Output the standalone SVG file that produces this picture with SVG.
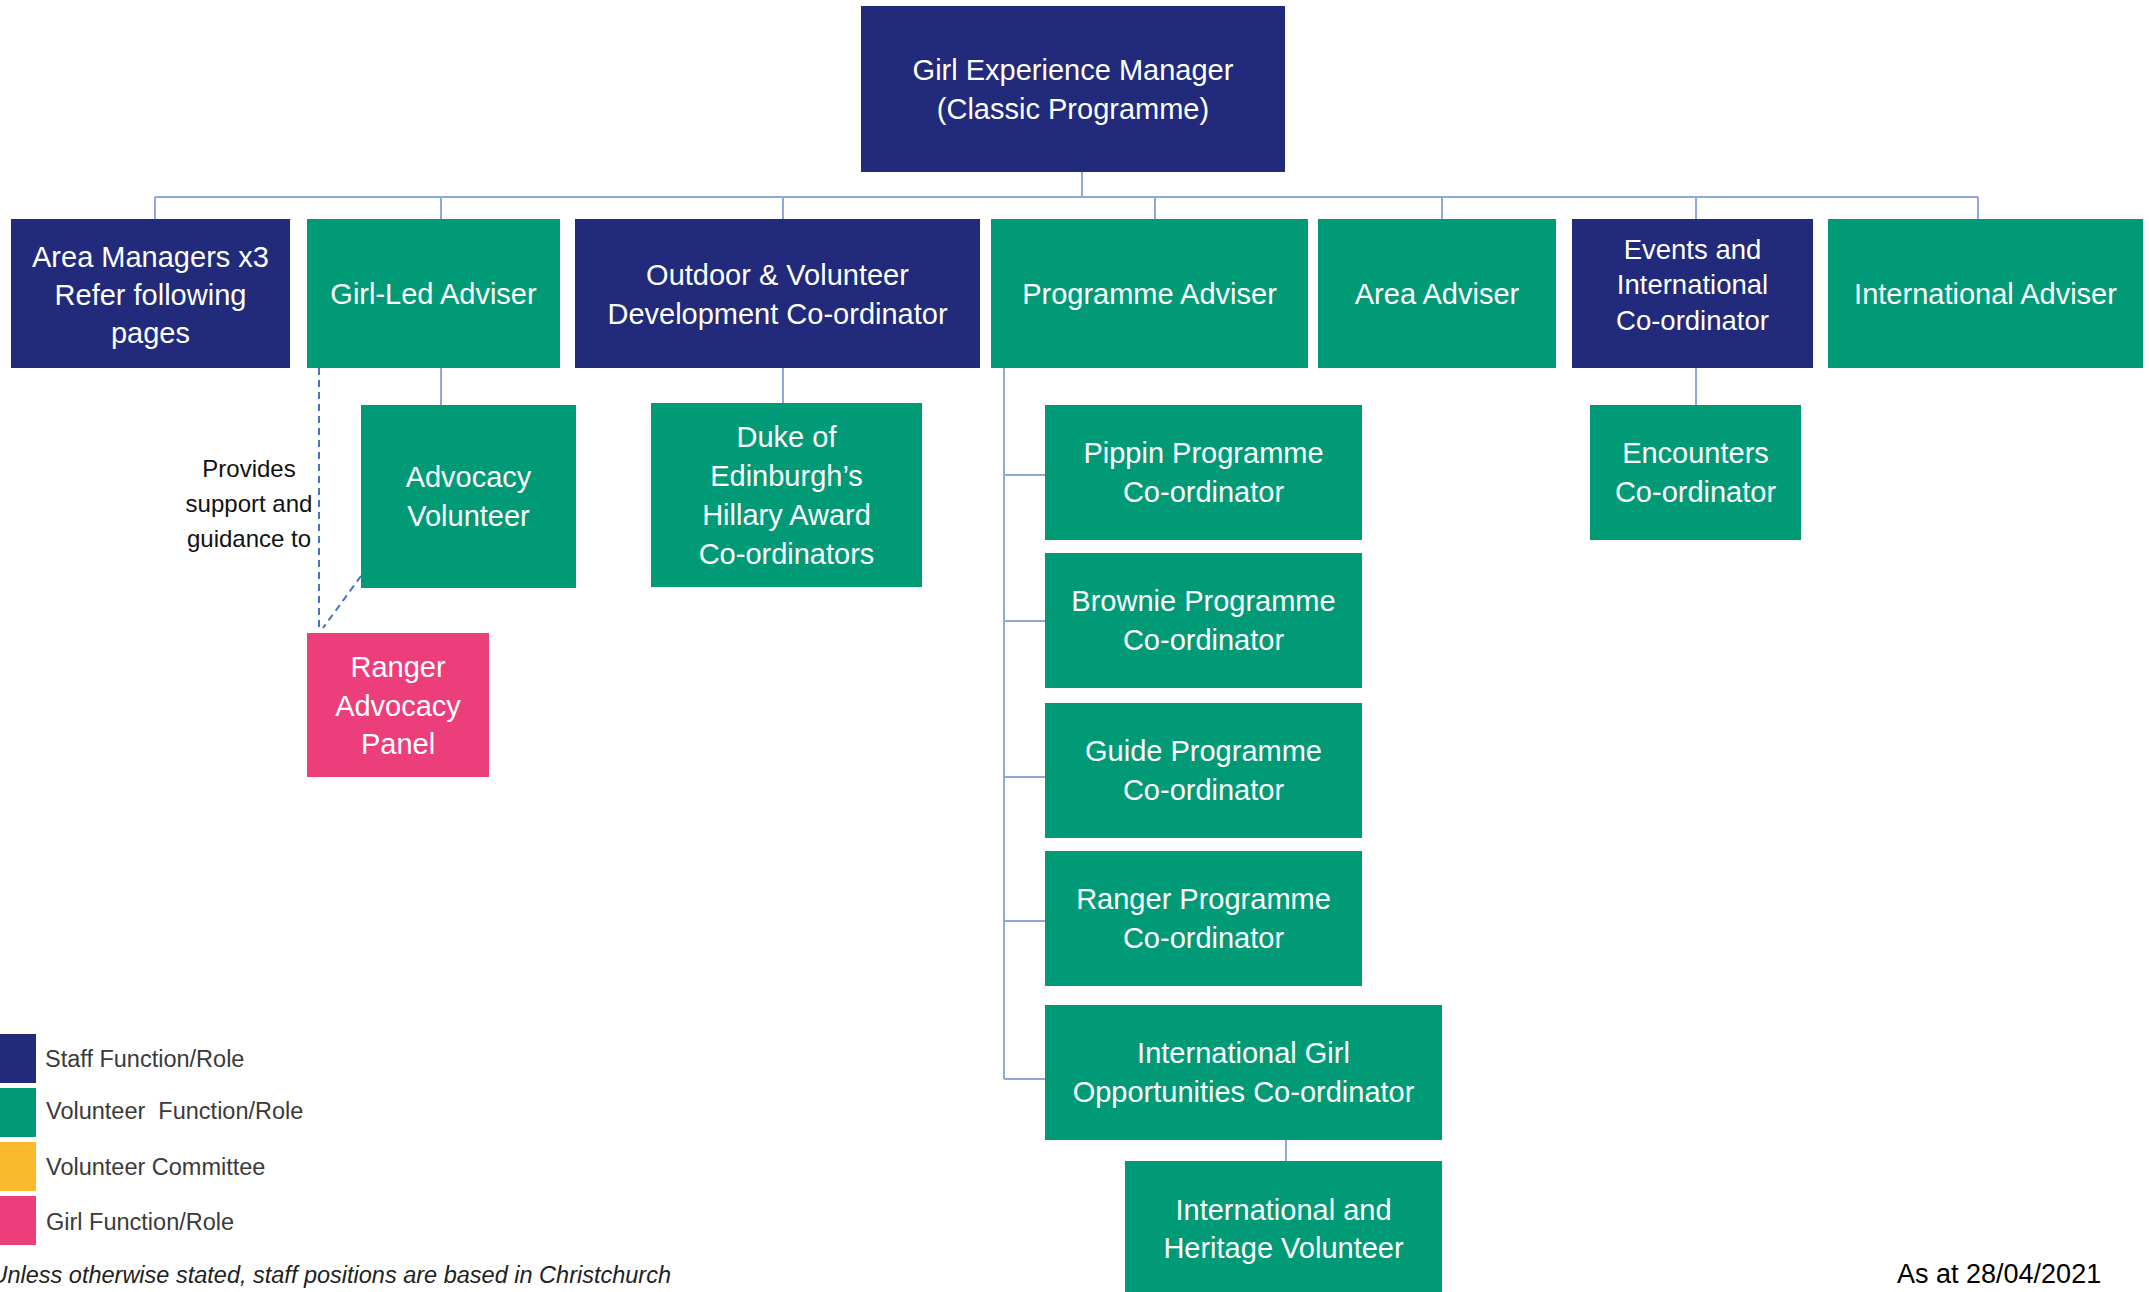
<svg xmlns="http://www.w3.org/2000/svg" width="2149" height="1292" viewBox="0 0 2149 1292">
<style>
.staff{fill:#212A7B}
.vol{fill:#009B76}
.girl{fill:#EC3E7B}
.t{fill:#ffffff;font-family:"Liberation Sans",Arial,sans-serif;font-size:29px;text-anchor:middle}
.ts{font-size:27.5px}
.c{fill:none;stroke:#8EA8DB;stroke-width:2}
.d{fill:none;stroke:#4472C4;stroke-width:2;stroke-dasharray:7 5}
.note{font-family:"Liberation Sans",Arial,sans-serif;font-size:24px;fill:#111;text-anchor:middle}
.leg{font-family:"Liberation Sans",Arial,sans-serif;font-size:23.5px;fill:#3a3a3a}
</style>
<rect width="2149" height="1292" fill="#ffffff"/>
<g id="connectors">
<path class="c" d="M1082 172V197M155 197H1978M155 197V219M441 197V219M783 197V219M1155 197V219M1442 197V219M1696 197V219M1978 197V219"/>
<path class="c" d="M441 368V405M783 368V403M1696 368V405"/>
<path class="c" d="M1004 368V1079M1004 475H1045M1004 621H1045M1004 777H1045M1004 921H1045M1004 1079H1045"/>
<path class="c" d="M1286 1140V1161"/>
<path class="d" d="M319 368V627"/>
<path class="d" d="M361 576L323 628"/>
</g>
<g id="n-gem"><rect class="staff" x="861" y="6" width="424" height="166"/><text class="t" x="1073" y="80">Girl Experience Manager</text><text class="t" x="1073" y="119">(Classic Programme)</text></g>
<g id="n-am"><rect class="staff" x="11" y="219" width="279" height="149"/><text class="t" x="150.5" y="267">Area Managers x3</text><text class="t" x="150.5" y="305">Refer following</text><text class="t" x="150.5" y="343">pages</text></g>
<g id="n-gla"><rect class="vol" x="307" y="219" width="253" height="149"/><text class="t" x="433.5" y="304">Girl-Led Adviser</text></g>
<g id="n-ovd"><rect class="staff" x="575" y="219" width="405" height="149"/><text class="t" x="777.5" y="285">Outdoor &amp; Volunteer</text><text class="t" x="777.5" y="324">Development Co-ordinator</text></g>
<g id="n-pa"><rect class="vol" x="991" y="219" width="317" height="149"/><text class="t" x="1149.5" y="304">Programme Adviser</text></g>
<g id="n-aa"><rect class="vol" x="1318" y="219" width="238" height="149"/><text class="t" x="1437" y="304">Area Adviser</text></g>
<g id="n-eic"><rect class="staff" x="1572" y="219" width="241" height="149"/><text class="t ts" x="1692.5" y="259">Events and</text><text class="t ts" x="1692.5" y="294">International</text><text class="t ts" x="1692.5" y="330">Co-ordinator</text></g>
<g id="n-ia"><rect class="vol" x="1828" y="219" width="315" height="149"/><text class="t" x="1985.5" y="304">International Adviser</text></g>
<g id="n-av"><rect class="vol" x="361" y="405" width="215" height="183"/><text class="t" x="468.5" y="487">Advocacy</text><text class="t" x="468.5" y="526">Volunteer</text></g>
<g id="n-doe"><rect class="vol" x="651" y="403" width="271" height="184"/><text class="t" x="786.5" y="447">Duke of</text><text class="t" x="786.5" y="486">Edinburgh’s</text><text class="t" x="786.5" y="525">Hillary Award</text><text class="t" x="786.5" y="564">Co-ordinators</text></g>
<g id="n-rap"><rect class="girl" x="307" y="633" width="182" height="144"/><text class="t" x="398" y="677">Ranger</text><text class="t" x="398" y="716">Advocacy</text><text class="t" x="398" y="754">Panel</text></g>
<g id="n-ppc"><rect class="vol" x="1045" y="405" width="317" height="135"/><text class="t" x="1203.5" y="463">Pippin Programme</text><text class="t" x="1203.5" y="502">Co-ordinator</text></g>
<g id="n-bpc"><rect class="vol" x="1045" y="553" width="317" height="135"/><text class="t" x="1203.5" y="611">Brownie Programme</text><text class="t" x="1203.5" y="650">Co-ordinator</text></g>
<g id="n-gpc"><rect class="vol" x="1045" y="703" width="317" height="135"/><text class="t" x="1203.5" y="761">Guide Programme</text><text class="t" x="1203.5" y="800">Co-ordinator</text></g>
<g id="n-rpc"><rect class="vol" x="1045" y="851" width="317" height="135"/><text class="t" x="1203.5" y="909">Ranger Programme</text><text class="t" x="1203.5" y="948">Co-ordinator</text></g>
<g id="n-igoc"><rect class="vol" x="1045" y="1005" width="397" height="135"/><text class="t" x="1243.5" y="1063">International Girl</text><text class="t" x="1243.5" y="1102">Opportunities Co-ordinator</text></g>
<g id="n-ihv"><rect class="vol" x="1125" y="1161" width="317" height="131"/><text class="t" x="1283.5" y="1220">International and</text><text class="t" x="1283.5" y="1258">Heritage Volunteer</text></g>
<g id="n-enc"><rect class="vol" x="1590" y="405" width="211" height="135"/><text class="t" x="1695.5" y="463">Encounters</text><text class="t" x="1695.5" y="502">Co-ordinator</text></g>
<g id="label-support"><text class="note" x="249" y="477">Provides</text><text class="note" x="249" y="512">support and</text><text class="note" x="249" y="547">guidance to</text></g>
<g id="legend">
<rect class="staff" x="0" y="1034" width="36" height="49"/>
<rect class="vol" x="0" y="1088" width="36" height="49"/>
<rect x="0" y="1142" width="36" height="49" fill="#FBB92F"/>
<rect class="girl" x="0" y="1196" width="36" height="49"/>
<text class="leg" x="45" y="1067">Staff Function/Role</text>
<text class="leg" x="46" y="1119" xml:space="preserve">Volunteer  Function/Role</text>
<text class="leg" x="46" y="1175">Volunteer Committee</text>
<text class="leg" x="46" y="1230">Girl Function/Role</text>
<text x="671" y="1283" font-family="Liberation Sans, Arial, sans-serif" font-size="23.5" font-style="italic" fill="#222" text-anchor="end">Unless otherwise stated, staff positions are based in Christchurch</text>
</g>
<text x="1897" y="1283" font-family="Liberation Sans, Arial, sans-serif" font-size="27" fill="#000">As at 28/04/2021</text>
</svg>
